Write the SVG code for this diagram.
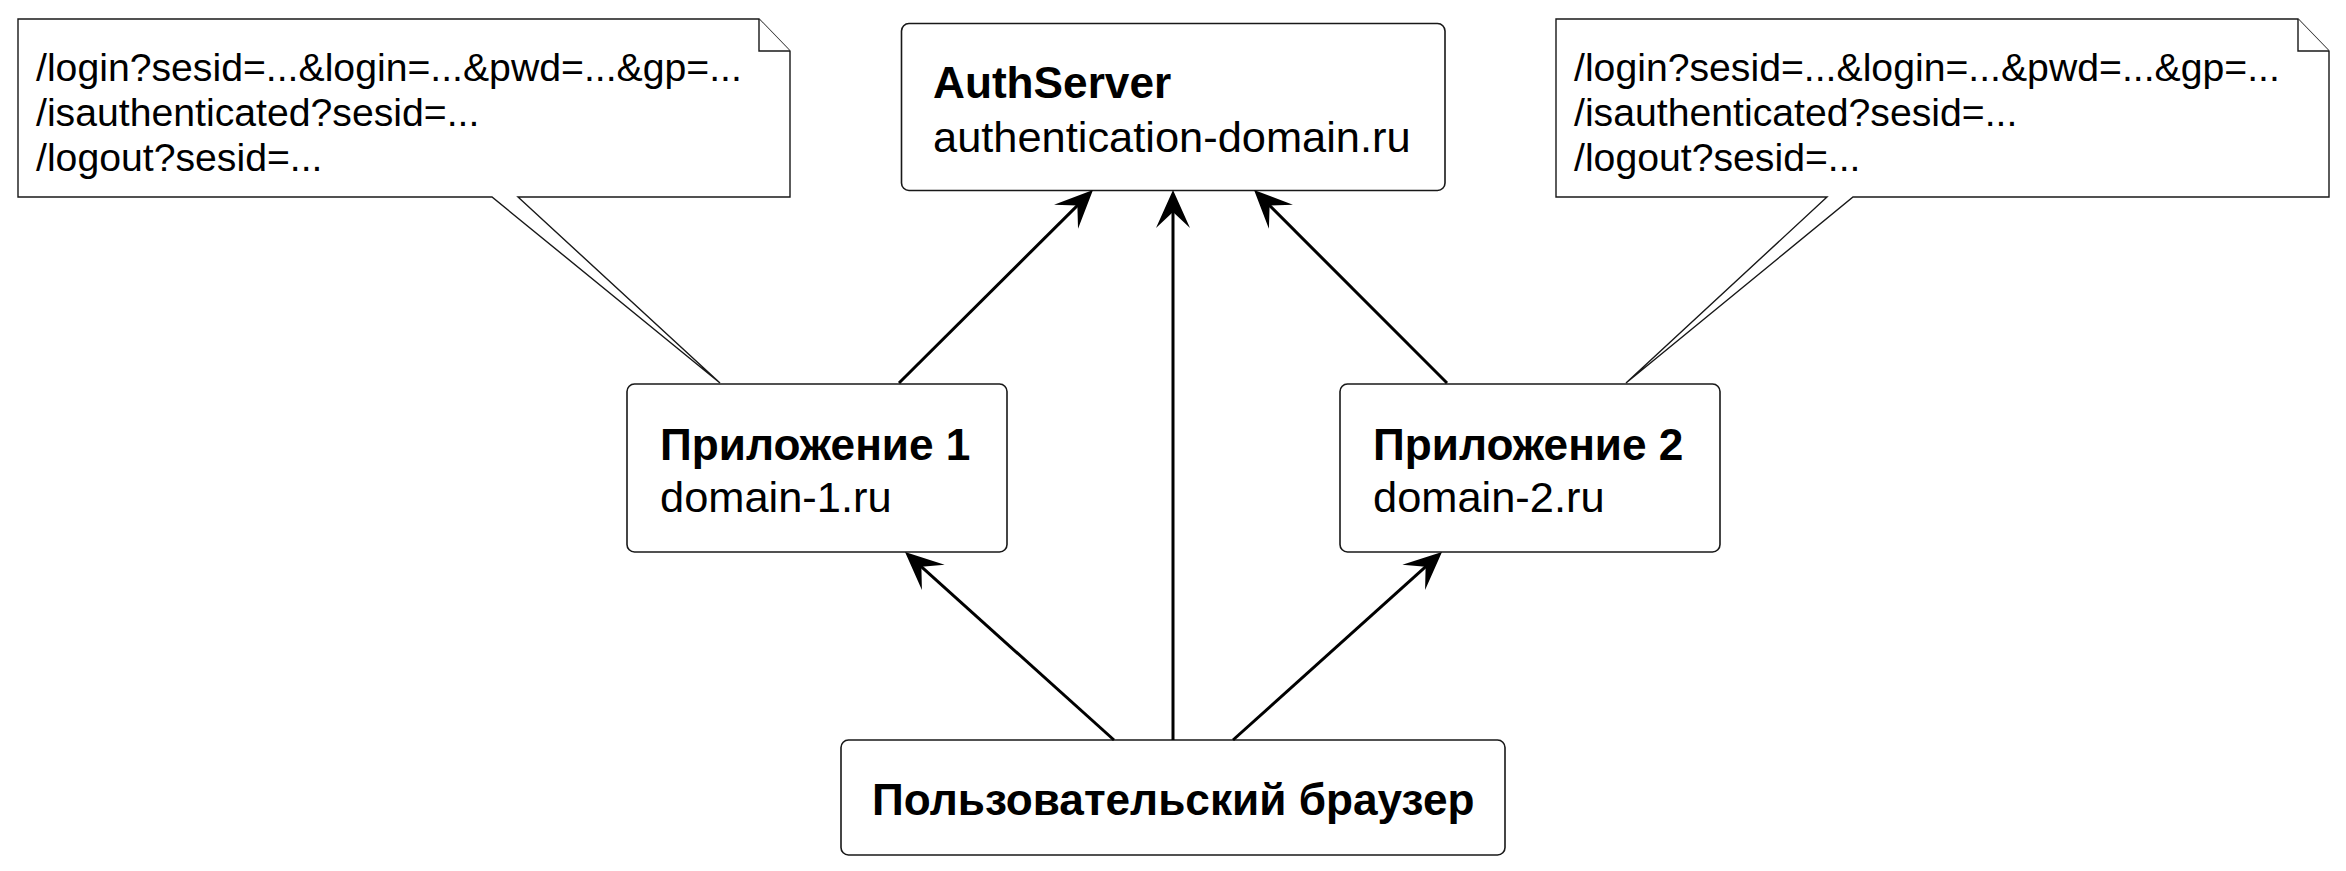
<svg xmlns="http://www.w3.org/2000/svg" width="2346" height="871" viewBox="0 0 2346 871">
<style>
.node{fill:#ffffff;stroke:#181818;stroke-width:1.6}
.note{fill:#ffffff;stroke:#181818;stroke-width:1.4}
.t{font-family:"Liberation Sans",Arial,sans-serif;fill:#000000}
.b{font-size:44.2px;font-weight:bold}
.r{font-size:43.4px}
.n{font-size:39.2px}
.edge{stroke:#000000;stroke-width:3;fill:none}
</style>
<defs>
<marker id="arr" markerUnits="userSpaceOnUse" viewBox="-22 -20 46 40" markerWidth="46" markerHeight="40" refX="0" refY="0" orient="auto">
<path d="M20,0 L-18,-17 L-2,0 L-18,17 Z" fill="#000000"/>
</marker>
</defs>
<rect width="2346" height="871" fill="#ffffff"/>
<g id="note1">
<path class="note" d="M18,19 L759,19 L790,51 L790,197 L518,197 L720,383 L492,197 L18,197 Z"/>
<path class="note" d="M759,19 L759,51 L790,51"/>
<text class="t n" x="36" y="81">/login?sesid=...&amp;login=...&amp;pwd=...&amp;gp=...</text>
<text class="t n" x="36" y="126">/isauthenticated?sesid=...</text>
<text class="t n" x="36" y="171">/logout?sesid=...</text>
</g>
<g id="note2">
<path class="note" d="M1556,19 L2298,19 L2329,51 L2329,197 L1853,197 L1626,383 L1827,197 L1556,197 Z"/>
<path class="note" d="M2298,19 L2298,51 L2329,51"/>
<text class="t n" x="1574" y="81">/login?sesid=...&amp;login=...&amp;pwd=...&amp;gp=...</text>
<text class="t n" x="1574" y="126">/isauthenticated?sesid=...</text>
<text class="t n" x="1574" y="171">/logout?sesid=...</text>
</g>
<g id="authserver">
<rect class="node" x="901.5" y="23.5" width="543.5" height="167" rx="7.5"/>
<text class="t b" x="933" y="98">AuthServer</text>
<text class="t r" x="933" y="152">authentication-domain.ru</text>
</g>
<g id="app1">
<rect class="node" x="627" y="384" width="380" height="168" rx="7.5"/>
<text class="t b" x="660" y="460">Приложение 1</text>
<text class="t r" x="660" y="512">domain-1.ru</text>
</g>
<g id="app2">
<rect class="node" x="1340" y="384" width="380" height="168" rx="7.5"/>
<text class="t b" x="1373" y="460">Приложение 2</text>
<text class="t r" x="1373" y="512">domain-2.ru</text>
</g>
<g id="browser">
<rect class="node" x="841" y="740" width="664" height="115" rx="7.5"/>
<text class="t b" x="872" y="815">Пользовательский браузер</text>
</g>
<g id="connectors">
<line class="edge" x1="899" y1="383" x2="1078.8" y2="204.1" marker-end="url(#arr)"/>
<line class="edge" x1="1173" y1="740" x2="1173" y2="210" marker-end="url(#arr)"/>
<line class="edge" x1="1447" y1="383" x2="1268.2" y2="204.1" marker-end="url(#arr)"/>
<line class="edge" x1="1114" y1="740" x2="919.9" y2="565.4" marker-end="url(#arr)"/>
<line class="edge" x1="1233" y1="740" x2="1427.1" y2="565.4" marker-end="url(#arr)"/>
</g>
</svg>
